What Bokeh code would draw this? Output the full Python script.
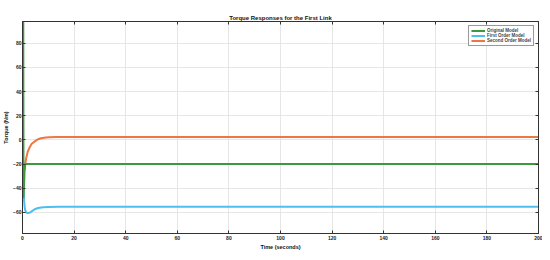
from bokeh.plotting import figure
from bokeh.models import LinearAxis, Range1d, FixedTicker, Legend, LegendItem
from bokeh.embed import file_html
from bokeh.resources import INLINE

# Time samples (seconds)
t_orig = [0, 0.3, 0.4, 0.6, 0.8, 1.0, 1.3, 2, 5, 20, 50, 100, 150, 200]
y_orig = [100, 100, -48, -38, -26, -21, -20, -20, -20, -20, -20, -20, -20, -20]

t_first = [0, 0.2, 0.4, 0.6, 0.8, 1.0, 1.4, 1.8, 2.3, 3.0, 4.0, 5.0, 6.0, 8.0, 10, 14, 20, 50, 100, 150, 200]
y_first = [0, -25, -42, -50, -55, -58, -60, -60.5, -60.6, -60, -58.5, -57.2, -56.4, -55.8, -55.5, -55.4, -55.4, -55.4, -55.4, -55.4, -55.4]

t_second = [0, 0.2, 0.4, 0.6, 0.8, 1.0, 1.4, 2.0, 2.7, 3.5, 4.6, 6.0, 7.2, 9.0, 10.4, 13, 20, 50, 100, 150, 200]
y_second = [-3, -16, -24, -25, -24, -21, -15.5, -10, -6.5, -3.5, -1.5, 0.5, 1.4, 2.0, 2.2, 2.3, 2.3, 2.3, 2.3, 2.3, 2.3]

x_ticks = [0, 20, 40, 60, 80, 100, 120, 140, 160, 180, 200]
y_ticks = [-60, -40, -20, 0, 20, 40, 60, 80]

series_names = ["Original Model", "First Order Model", "Second Order Model"]
colors = ["#3C9A3C", "#4DBEEE", "#EE7544"]

p = figure(width=542, height=252, output_backend="svg", toolbar_location=None,
           x_range=Range1d(0, 200), y_range=Range1d(-77.5, 98),
           min_border_left=1, min_border_right=4, min_border_top=21, min_border_bottom=0)

p.title.text = "Torque Responses for the First Link"
p.title.align = "center"
p.title.text_font = "Liberation Sans"
p.title.text_font_size = "6px"
p.title.text_font_style = "bold"
p.title.text_color = "#111111"
p.title.standoff = 1
p.title.offset = 0

p.background_fill_color = "white"
p.border_fill_color = "white"
p.outline_line_color = "#333333"
p.outline_line_width = 1

for ax in (p.xaxis[0], p.yaxis[0]):
    ax.major_tick_in = 3
    ax.major_tick_out = 0
    ax.minor_tick_line_color = None
    ax.axis_line_color = "#333333"
    ax.major_tick_line_color = "#333333"
    ax.major_label_text_font = "Liberation Sans"
    ax.major_label_text_font_size = "5px"
    ax.major_label_text_font_style = "bold"
    ax.major_label_text_color = "#222222"
    ax.axis_label_text_font = "Liberation Sans"
    ax.axis_label_text_font_size = "5.5px"
    ax.axis_label_text_font_style = "bold"
    ax.axis_label_text_color = "#111111"
    ax.axis_label_standoff = 2
    ax.major_label_standoff = 2

p.yaxis[0].axis_label_standoff = 1
p.yaxis[0].major_label_standoff = 1
p.xaxis[0].axis_label_standoff = 1

p.xaxis.ticker = FixedTicker(ticks=x_ticks)
p.yaxis.ticker = FixedTicker(ticks=y_ticks)
p.xaxis.axis_label = "Time (seconds)"
p.yaxis.axis_label = "Torque (Nm)"

for loc, tick in (("above", x_ticks), ("right", y_ticks)):
    a = LinearAxis(ticker=FixedTicker(ticks=tick),
                   major_label_overrides={v: "" for v in tick},
                   major_tick_in=3, major_tick_out=0, minor_tick_line_color=None,
                   axis_line_color="#333333", major_tick_line_color="#333333",
                   major_label_standoff=0)
    p.add_layout(a, loc)

p.grid.grid_line_color = "#e6e6e6"
p.grid.grid_line_width = 1

r2 = p.line(t_first, y_first, line_color=colors[1], line_width=2)
r3 = p.line(t_second, y_second, line_color=colors[2], line_width=2)
r1 = p.line(t_orig, y_orig, line_color=colors[0], line_width=2)

legend = Legend(items=[LegendItem(label=series_names[0], renderers=[r1]),
                       LegendItem(label=series_names[1], renderers=[r2]),
                       LegendItem(label=series_names[2], renderers=[r3])],
                location="top_right")
legend.label_text_font = "Liberation Sans"
legend.label_text_font_size = "4.5px"
legend.label_text_font_style = "bold"
legend.label_height = 5
legend.glyph_height = 5
legend.glyph_width = 14
legend.spacing = 0
legend.padding = 2
legend.margin = 4
legend.label_standoff = 2
legend.border_line_color = "#333333"
legend.border_line_width = 1
legend.background_fill_alpha = 1
p.add_layout(legend)

open("out.html", "w").write(file_html(p, INLINE))
